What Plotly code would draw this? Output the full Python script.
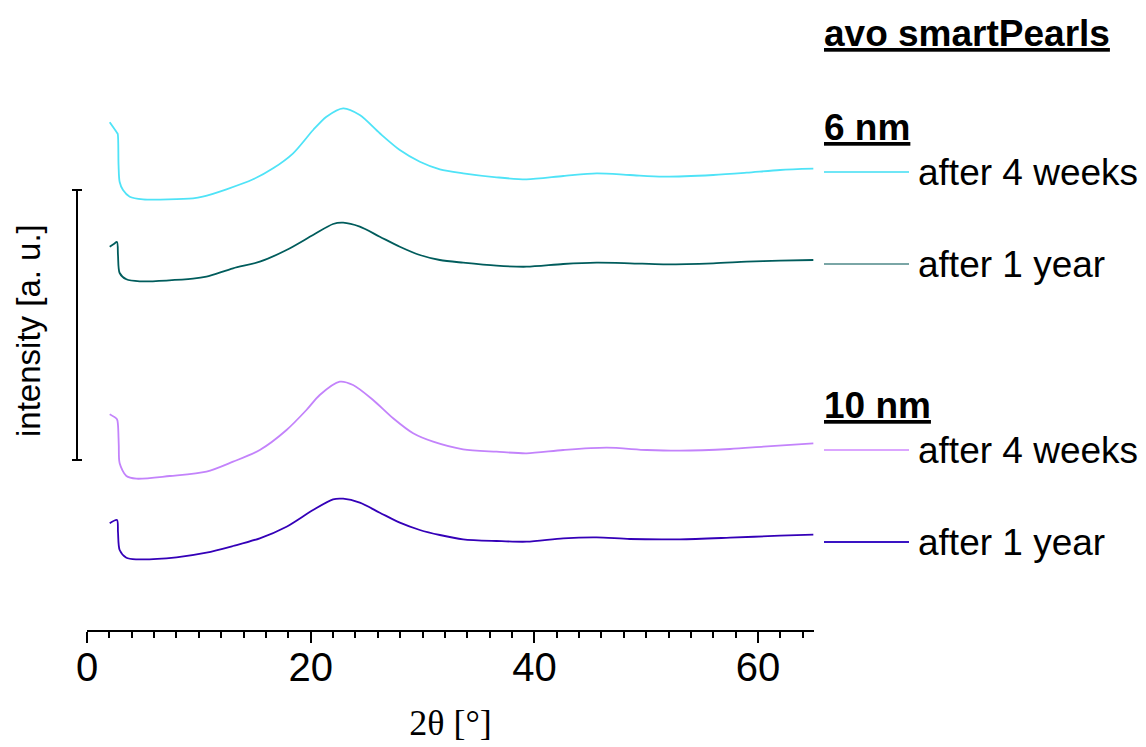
import plotly.graph_objects as go

# 2-theta positions (deg) and intensities (a.u., relative to each pattern's own baseline)
tt_6nm_4w = [2.03, 2.68, 2.75, 2.82, 2.92, 3.22, 3.82, 5.01, 9.48, 10.35, 12.47, 14.85, 16.64,
             18.43, 20.22, 21.41, 22.90, 24.39, 26.18, 27.97, 29.76, 31.55, 33.63, 36.62,
             39.30, 42.58, 45.56, 48.54, 51.52, 55.99, 58.98, 61.96, 64.94]
int_6nm_4w = [77.7, 67.3, 66.0, 35.0, 18.0, 10.0, 3.3, 0.7, 1.7, 3.3, 10.7, 20.7, 31.7,
              46.7, 70.0, 83.3, 91.7, 85.0, 66.7, 50.0, 38.3, 30.7, 26.7, 22.7,
              20.7, 24.0, 26.7, 25.0, 23.3, 25.0, 27.3, 30.0, 31.3]

tt_6nm_1y = [2.03, 2.40, 2.68, 2.77, 2.92, 3.52, 4.71, 9.48, 10.68, 13.06, 15.45, 17.84,
             20.21, 22.00, 22.90, 24.39, 26.18, 27.97, 29.76, 31.55, 33.63, 36.62, 39.30,
             42.58, 45.56, 48.54, 51.52, 55.99, 58.98, 61.96, 64.94]
int_6nm_1y = [33.3, 36.0, 38.0, 25.0, 7.0, 0.7, -1.3, 1.3, 3.3, 11.7, 18.3, 30.0,
              45.0, 56.0, 57.3, 53.3, 43.3, 33.3, 25.0, 20.0, 17.3, 14.3, 13.3,
              16.0, 17.3, 16.7, 15.7, 16.7, 18.3, 19.3, 20.0]

tt_10nm_4w = [2.03, 2.68, 2.77, 2.84, 2.92, 3.52, 4.42, 7.40, 10.68, 13.06, 15.45, 17.84,
              19.62, 20.81, 22.60, 23.79, 25.58, 27.37, 29.16, 30.95, 33.63, 36.62, 39.30,
              42.58, 46.46, 50.04, 53.01, 57.49, 60.47, 64.94]
int_10nm_4w = [65.7, 60.7, 55.0, 35.0, 16.7, 4.0, 1.3, 4.0, 8.3, 18.3, 30.0, 50.0,
               70.0, 85.0, 98.3, 95.0, 80.0, 61.7, 46.7, 38.3, 30.7, 28.3, 26.7,
               30.0, 32.3, 30.0, 29.3, 31.0, 33.3, 36.7]

tt_10nm_1y = [2.03, 2.68, 2.77, 2.92, 3.52, 4.42, 8.00, 10.68, 13.06, 15.45, 17.84, 20.21,
              22.00, 22.90, 24.39, 26.18, 27.97, 29.76, 31.55, 33.63, 36.62, 39.30, 42.58,
              45.56, 48.54, 53.01, 57.49, 61.96, 64.94]
int_10nm_1y = [36.7, 40.0, 28.0, 10.0, 2.3, 0.7, 2.7, 7.3, 14.0, 21.7, 33.3, 50.0,
               60.7, 61.3, 57.3, 47.3, 37.3, 30.0, 25.0, 20.7, 19.0, 18.3, 21.7,
               22.7, 21.0, 20.7, 22.3, 24.3, 25.3]

# vertical stacking offsets of the four patterns
offsets = [430, 350, 150, 70]
line_colors = ["#4fe3f7", "#005c5c", "#c383fb", "#3400b8"]
sample_colors = ["#6fe6f6", "#7aa6a6", "#dba6ff", "#3a14c4"]
labels = ["after 4 weeks", "after 1 year", "after 4 weeks", "after 1 year"]

# intensity scale bar (a.u.)
scale_bar = [170, 440]

series = [(tt_6nm_4w, int_6nm_4w), (tt_6nm_1y, int_6nm_1y),
          (tt_10nm_4w, int_10nm_4w), (tt_10nm_1y, int_10nm_1y)]

fig = go.Figure()
for (tt, inten), off, col, lab in zip(series, offsets, line_colors, labels):
    fig.add_trace(go.Scatter(
        x=tt, y=[v + off for v in inten], mode="lines", name=lab,
        line=dict(color=col, width=1.8, shape="spline", smoothing=0.8),
        showlegend=False))

SANS = "Liberation Sans, Arial, sans-serif"

# layout geometry: plot area spans x pixels 87..814, y value == pixels above the x axis
plot_w = 727
def px_to_paper(px):
    return (px - 87) / plot_w

shapes = []
# scale bar with caps
bar_x = px_to_paper(77)
cap_l, cap_r = px_to_paper(72), px_to_paper(82)
shapes.append(dict(type="line", xref="paper", yref="y", x0=bar_x, x1=bar_x,
                   y0=scale_bar[0], y1=scale_bar[1], line=dict(color="black", width=2)))
for yv in scale_bar:
    shapes.append(dict(type="line", xref="paper", yref="y", x0=cap_l, x1=cap_r,
                       y0=yv, y1=yv, line=dict(color="black", width=2)))

# legend samples and labels
key_y = [458, 366, 180, 88]
annotations = []
for yk, col, lab in zip(key_y, sample_colors, labels):
    shapes.append(dict(type="line", xref="paper", yref="y", x0=px_to_paper(824),
                       x1=px_to_paper(909), y0=yk, y1=yk, line=dict(color=col, width=2)))
    annotations.append(dict(xref="paper", yref="y", x=px_to_paper(916), y=yk,
                            xanchor="left", yanchor="middle", showarrow=False,
                            text=lab, font=dict(family=SANS, size=37, color="black")))

headers = [("avo smartPearls", 597), ("6 nm", 503), ("10 nm", 225)]
for txt, yh in headers:
    annotations.append(dict(xref="paper", yref="y", x=px_to_paper(822), y=yh,
                            xanchor="left", yanchor="middle", showarrow=False,
                            text=f"<b><u>{txt}</u></b>",
                            font=dict(family=SANS, size=37, color="black")))

# y-axis title
annotations.append(dict(xref="paper", yref="y", x=px_to_paper(28), y=299,
                        xanchor="center", yanchor="middle", showarrow=False,
                        textangle=-90, text="intensity [a. u.]",
                        font=dict(family=SANS, size=33, color="black")))

fig.update_layout(
    width=1146, height=747,
    margin=dict(l=87, r=332, t=30, b=117, autoexpand=False),
    paper_bgcolor="white", plot_bgcolor="white",
    shapes=shapes, annotations=annotations,
    xaxis=dict(
        range=[0, 65], showgrid=False, zeroline=False, automargin=False,
        showline=True, linecolor="black", linewidth=2,
        ticks="outside", ticklen=11, tickwidth=2, tickcolor="black",
        tick0=0, dtick=20, ticklabelstandoff=-10,
        tickfont=dict(family=SANS, size=40, color="black"),
        minor=dict(ticks="outside", dtick=2, ticklen=6, tickwidth=2, tickcolor="black"),
        title=dict(text="2θ [°]", standoff=22,
                   font=dict(family="Liberation Serif, Times New Roman, serif", size=36, color="black")),
    ),
    yaxis=dict(range=[0, 600], visible=False),
)

fig.write_html("out.html")
